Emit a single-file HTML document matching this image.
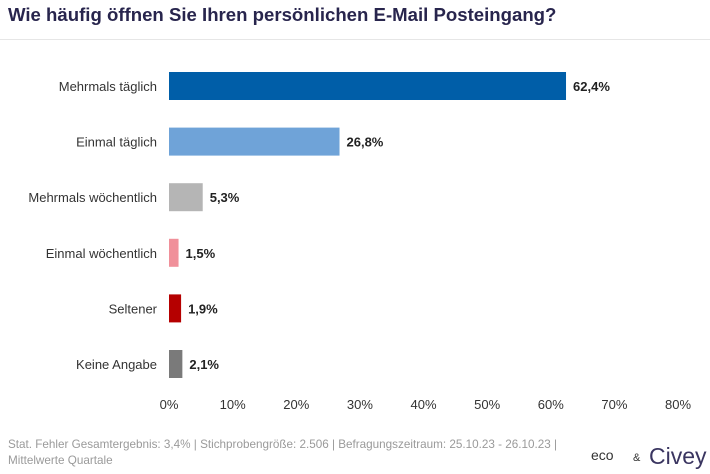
<!DOCTYPE html>
<html><head><meta charset="utf-8"><style>
body{margin:0;width:710px;height:474px;background:#fff;font-family:"Liberation Sans",sans-serif;overflow:hidden;position:relative}
.t{position:absolute;left:8px;top:4px;font-size:18.6px;font-weight:bold;color:#28254d}
.hr{position:absolute;left:0;top:39px;width:710px;height:1px;background:#e6e6e6}
.f{position:absolute;left:8px;top:437px;font-size:11.7px;color:#9a9a9a;line-height:16px;width:570px}
</style></head><body>
<div class="t">Wie häufig öffnen Sie Ihren persönlichen E-Mail Posteingang?</div>
<div class="hr"></div>
<svg id="c" width="710" height="474" style="position:absolute;left:0;top:0"></svg>
<div class="f">Stat. Fehler Gesamtergebnis: 3,4% | Stichprobengröße: 2.506 | Befragungszeitraum: 25.10.23 - 26.10.23 | Mittelwerte Quartale</div>
<div style="position:absolute;left:591px;top:447px;font-size:14px;color:#333">eco</div>
<div style="position:absolute;left:633px;top:452px;font-size:11px;color:#333">&amp;</div>
<div style="position:absolute;left:649px;top:443px;font-size:23px;color:#3a3560">Civey</div>
<script>
const categories=["Mehrmals täglich","Einmal täglich","Mehrmals wöchentlich","Einmal wöchentlich","Seltener","Keine Angabe"];
const values=[62.4,26.8,5.3,1.5,1.9,2.1];
const labels=["62,4%","26,8%","5,3%","1,5%","1,9%","2,1%"];
const colors=["#005ea8","#6fa3d8","#b5b5b5","#f0909a","#b50000","#7a7a7a"];
const ticks=[0,10,20,30,40,50,60,70,80];
const svg=document.getElementById('c');const NS="http://www.w3.org/2000/svg";
const x=v=>169+v*(678-169)/80;
const y=i=>86+i*55.6;
function mk(t,a){const e=document.createElementNS(NS,t);for(const k in a)e.setAttribute(k,a[k]);svg.appendChild(e);return e;}
ticks.forEach(v=>{const e=mk('text',{x:x(v),y:409,'text-anchor':'middle','font-size':13,fill:'#333'});e.textContent=v+'%';

});
categories.forEach((c,i)=>{
const l=mk('text',{x:157,y:y(i)+5,'text-anchor':'end','font-size':13,fill:'#333'});l.textContent=c;


const r=mk('rect',{x:x(0),y:y(i)-14,width:x(values[i])-x(0),height:28,fill:colors[i]});


const v=mk('text',{x:x(values[i])+7,y:y(i)+5,'font-size':13,'font-weight':'bold',fill:'#222'});v.textContent=labels[i];


});
</script>
</body></html>
